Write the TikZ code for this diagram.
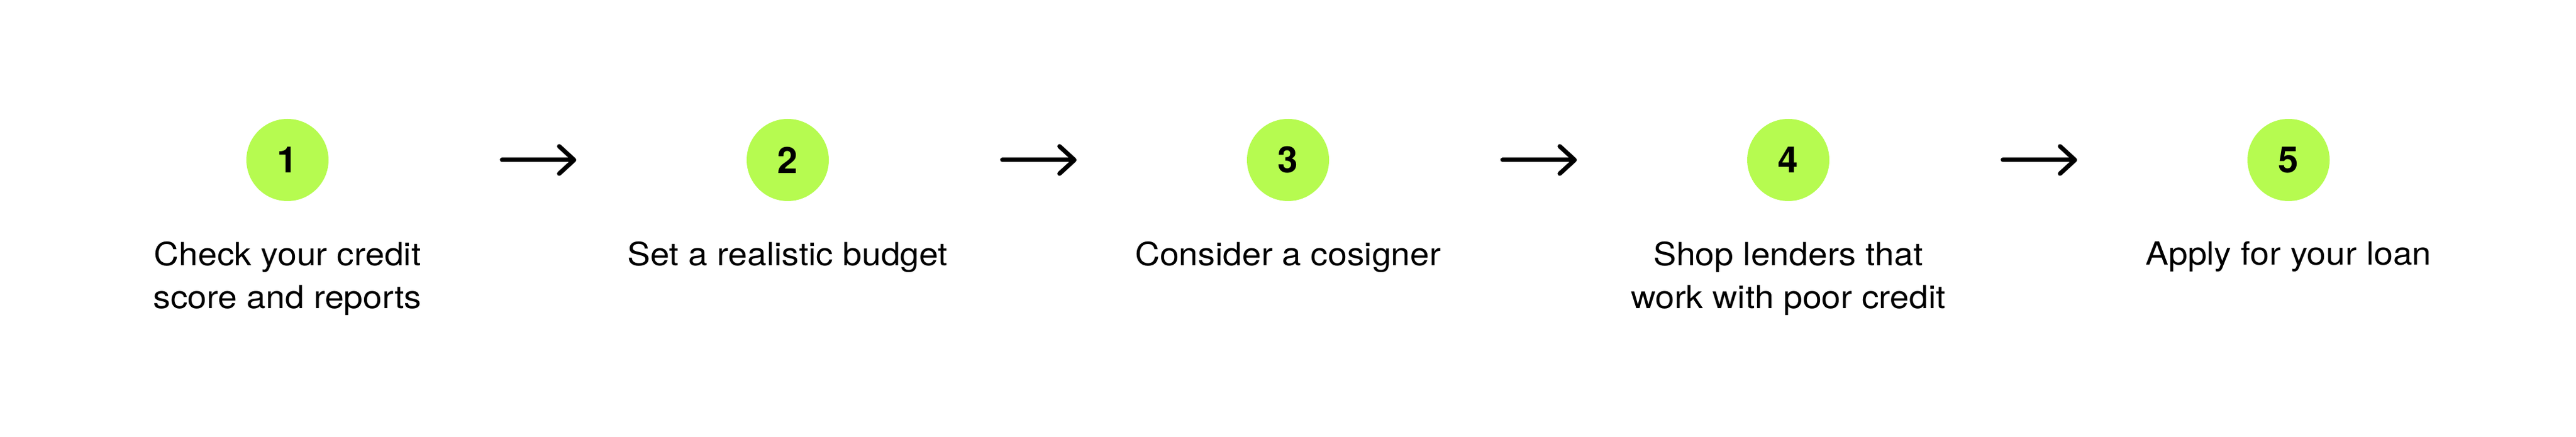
\documentclass[tikz,border=0pt]{standalone}
\usepackage{fontspec}
\setmainfont{TeX Gyre Heros}
\newfontfamily\capfont[FakeStretch = 1.08]{TeX Gyre Heros}
\usetikzlibrary{arrows.meta}
\definecolor{stepgreen}{HTML}{B6FB50}

\begin{document}
\begin{tikzpicture}[x = 1pt, y = 1pt,
  stepnum/.style = {circle, fill = stepgreen, minimum size = 33pt, inner sep = 0pt,
    font = \fontsize{14.6}{14.6}\selectfont\bfseries},
  steptext/.style = {anchor = north, align = center, inner sep = 0pt,
    font = \capfont\fontsize{12.8}{17.25}\selectfont},
  nextstep/.style = {black, line width = 1.75pt, line cap = round,
    -{Straight Barb[length = 6pt, width = 11pt, round]},
    shorten <= 69.5pt, shorten >= 68.25pt}]
\useasboundingbox (0, 0) rectangle (1035, -175.5);
\node[stepnum] (n1) at (115.5, -64.25){1};
\node[stepnum] (n2) at (316.5, -64.25){2};
\node[stepnum] (n3) at (517.5, -64.25){3};
\node[stepnum] (n4) at (718.5, -64.25){4};
\node[stepnum] (n5) at (919.5, -64.25){5};
\node[steptext] (t1) at (115.5, -96.75){Check your credit\\score and reports};
\node[steptext] (t2) at (316.5, -96.75){Set a realistic budget};
\node[steptext] (t3) at (517.5, -96.75){Consider a cosigner};
\node[steptext] (t4) at (718.5, -96.75){Shop lenders that\\work with poor credit};
\node[steptext] (t5) at (919.5, -96.75){Apply for your loan};
\draw[nextstep] (n1) -- (n2);
\draw[nextstep] (n2) -- (n3);
\draw[nextstep] (n3) -- (n4);
\draw[nextstep] (n4) -- (n5);
\end{tikzpicture}
\end{document}
